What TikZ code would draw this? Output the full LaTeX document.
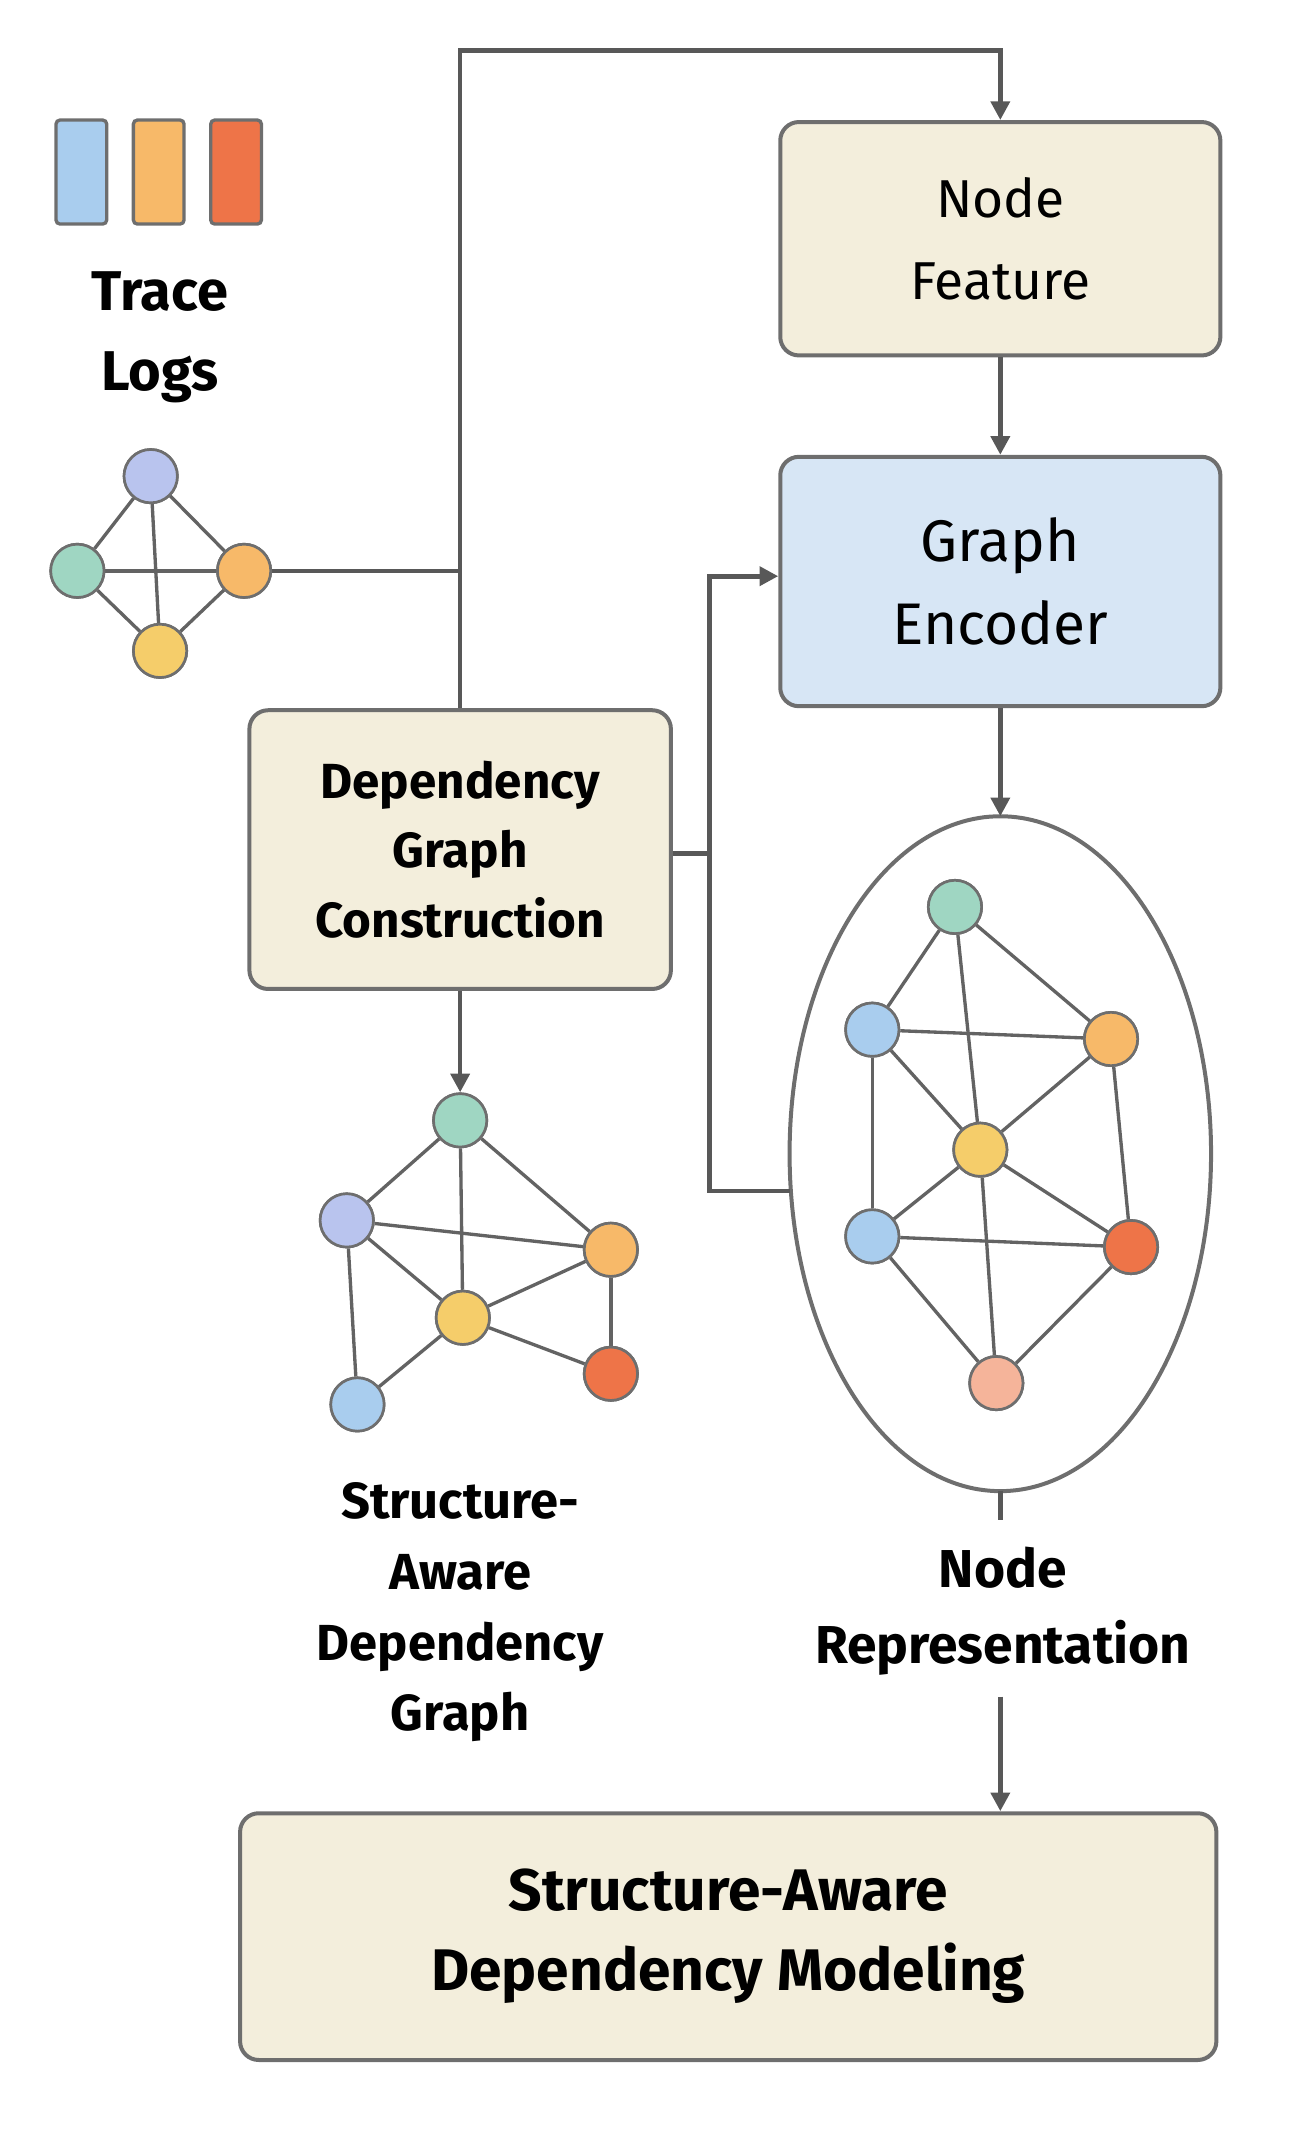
\documentclass[tikz,border=0pt]{standalone}
\usepackage{fontspec}
\setmainfont{Fira Sans}
\usetikzlibrary{arrows.meta}
\definecolor{beige}{HTML}{F3EEDC}
\definecolor{lblue}{HTML}{D7E6F5}
\definecolor{cgreen}{HTML}{9FD6C2}
\definecolor{clav}{HTML}{B9C4EE}
\definecolor{cblue}{HTML}{A9CDEE}
\definecolor{corange}{HTML}{F7B969}
\definecolor{cyellow}{HTML}{F5CD6A}
\definecolor{cred}{HTML}{EE7448}
\definecolor{cpeach}{HTML}{F5B49A}
\definecolor{bord}{HTML}{6E6E6E}
\begin{document}
\begin{tikzpicture}[x=1pt,y=-1pt,
  box/.style={draw=bord,line width=3pt,rounded corners=14pt,fill=beige,align=center,inner sep=0pt},
  conn/.style={draw=bord!80!black,line width=3.5pt},
  arr/.style={conn,-{Triangle[length=14pt,width=14pt]}},
  gn/.style={circle,draw=bord,line width=2pt,minimum size=40pt,inner sep=0pt},
  ge/.style={draw=bord!90!black,line width=2.5pt},
  lbl/.style={align=center,font=\fontsize{40}{54}\selectfont\bfseries}]
\useasboundingbox (0,0) rectangle (975,1600);
% trace bars
\foreach \x/\c in {42/cblue,100/corange,158/cred}
  \draw[draw=bord,line width=2.5pt,fill=\c,rounded corners=3pt] (\x,90) rectangle (\x+38,168);
\node[lbl,font=\fontsize{42}{60}\selectfont\bfseries] (tl) at (120,253) {Trace\\Logs};
% small graph
\node[gn,fill=clav] (s1) at (113,357) {};
\node[gn,fill=cgreen] (s2) at (58,428) {};
\node[gn,fill=corange] (s3) at (183,428) {};
\node[gn,fill=cyellow] (s4) at (120,488) {};
% boxes
\node[box,minimum width=330pt,minimum height=175pt,font=\fontsize{40}{62}\selectfont] (nf) at (750,179) {Node\\Feature};
\node[box,fill=lblue,minimum width=330pt,minimum height=187pt,font=\fontsize{44}{62}\selectfont] (ge) at (750,436) {Graph\\Encoder};
\node[box,minimum width=316pt,minimum height=209pt,font=\fontsize{37}{52}\selectfont\bfseries] (dg) at (345,637) {Dependency\\Graph\\Construction};
\node[box,minimum width=732pt,minimum height=185pt,font=\fontsize{44}{60}\selectfont\bfseries] (sm) at (546,1452) {Structure-Aware\\Dependency Modeling};
\draw[draw=bord,line width=3pt] (750,865) ellipse (158pt and 253pt);
\coordinate (et) at (750,612);
\coordinate (eb) at (750,1118);
\coordinate (el) at (592,893);
% connectors
\coordinate (j1) at (345,428);
\draw[conn] (s3.east) -- (j1);
\draw[arr] (dg.north) -- (345,38) -| (nf.north);
\draw[arr] (nf.south) -- (ge.north);
\draw[arr] (ge.south) -- (et);
\coordinate (j2) at (532,640);
\draw[conn] (dg.east |- j2) -- (j2);
\draw[arr] (el) -- (532,893) -- (532,432) -- (ge.west |- 0,432);
% left graph
\node[gn,fill=cgreen] (a1) at (345,840) {};
\node[gn,fill=clav] (a2) at (260,915) {};
\node[gn,fill=corange] (a3) at (458,937) {};
\node[gn,fill=cyellow] (a4) at (347,988) {};
\node[gn,fill=cblue] (a5) at (268,1053) {};
\node[gn,fill=cred] (a6) at (458,1030) {};
\draw[arr] (dg.south) -- (a1.north);
% ellipse graph
\node[gn,fill=cgreen] (b1) at (716,680) {};
\node[gn,fill=cblue] (b2) at (654,772) {};
\node[gn,fill=corange] (b3) at (833,779) {};
\node[gn,fill=cyellow] (b4) at (735,862) {};
\node[gn,fill=cblue] (b5) at (654,927) {};
\node[gn,fill=cred] (b6) at (848,935) {};
\node[gn,fill=cpeach] (b7) at (747,1037) {};
\foreach \a/\b in {s1/s2,s1/s3,s2/s4,s3/s4,s2/s3,s1/s4,
  a1/a2,a1/a3,a1/a4,a2/a3,a2/a4,a2/a5,a4/a3,a4/a6,a3/a6,a4/a5,
  b1/b2,b1/b3,b1/b4,b2/b3,b2/b4,b3/b4,b2/b5,b4/b5,b4/b6,b3/b6,b5/b6,b4/b7,b5/b7,b6/b7}
  \path[ge] (\a)--(\b);
% redraw nodes on top
\foreach \n/\c in {a1/cgreen,a2/clav,a3/corange,a4/cyellow,a5/cblue,a6/cred,b1/cgreen,b2/cblue,b3/corange,b4/cyellow,b5/cblue,b6/cred,b7/cpeach,s1/clav,s2/cgreen,s3/corange,s4/cyellow}
  \node[gn,fill=\c] at (\n) {};
\node[lbl,font=\fontsize{38}{53}\selectfont\bfseries] (sg) at (345,1209) {Structure-\\Aware\\Dependency\\Graph};
\node[lbl,font=\fontsize{40}{57}\selectfont\bfseries] (nr) at (752,1208) {Node\\Representation};
\draw[conn] (eb) -- (750,1140);
\draw[arr] (750,1272) -- (sm.north -| 750,0);
\end{tikzpicture}
\end{document}
